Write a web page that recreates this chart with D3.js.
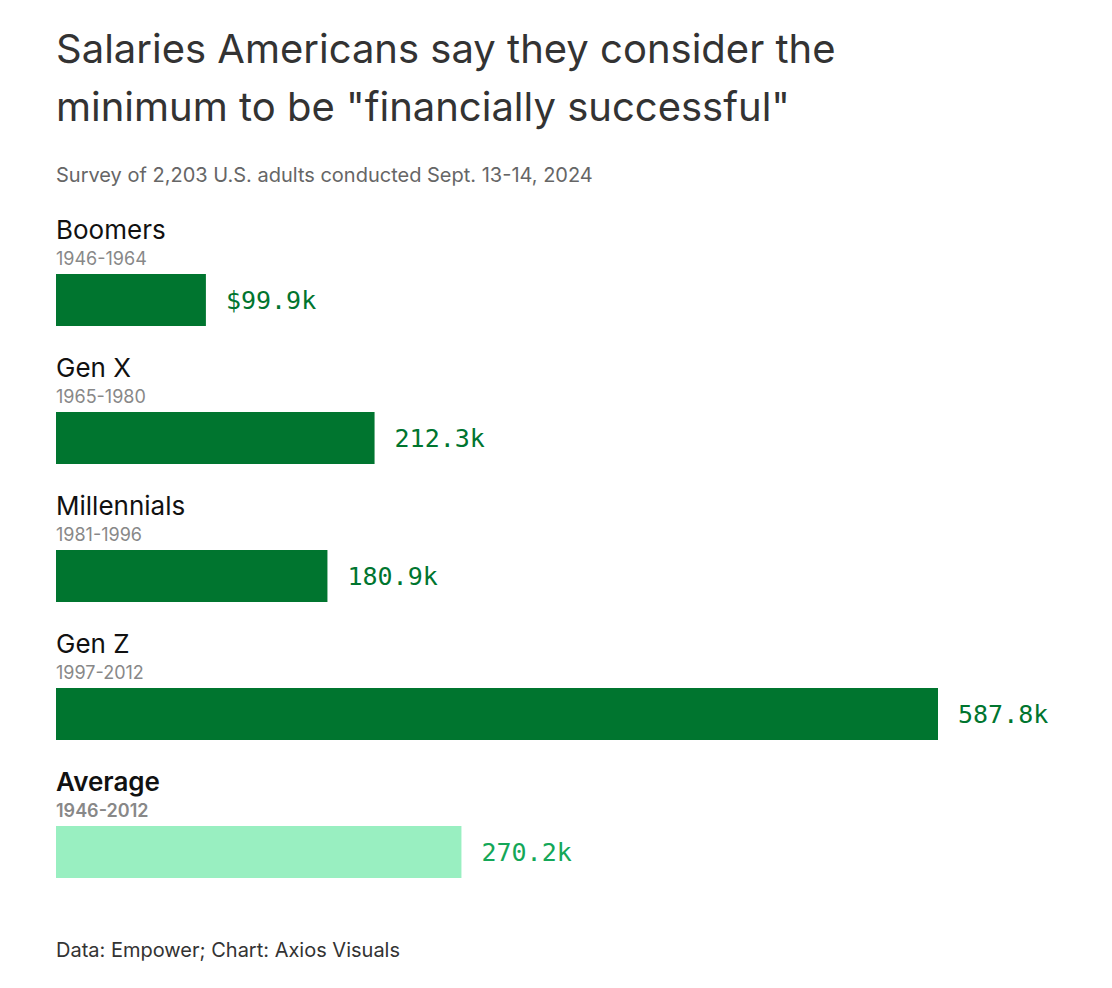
<!DOCTYPE html><html><head><meta charset="utf-8">
<script src="https://cdn.jsdelivr.net/npm/d3@7"></script>
<style>body{margin:0;background:#fff}</style></head><body>
<script>
const categories=["Boomers","Gen X","Millennials","Gen Z","Average"];
const years=["1946-1964","1965-1980","1981-1996","1997-2012","1946-2012"];
const values=[99.9,212.3,180.9,587.8,270.2];
const labels=["$99.9k","212.3k","180.9k","587.8k","270.2k"];
const W=1112,H=988;
const svg=d3.select("body").append("svg").attr("width",W).attr("height",H);
const font="Inter, 'Noto Sans', sans-serif";
svg.append("text").attr("x",56).attr("y",63).attr("font-family",font).attr("font-size",40).attr("fill","#333").text("Salaries Americans say they consider the");
svg.append("text").attr("x",56).attr("y",121).attr("font-family",font).attr("font-size",40).attr("fill","#333").text("minimum to be \"financially successful\"");
svg.append("text").attr("x",56).attr("y",182).attr("font-family",font).attr("font-size",20).attr("fill","#666").text("Survey of 2,203 U.S. adults conducted Sept. 13-14, 2024");
svg.append("text").attr("x",56).attr("y",957).attr("font-family",font).attr("font-size",20).attr("fill","#333").text("Data: Empower; Chart: Axios Visuals");
const x=d3.scaleLinear().domain([0,587.8]).range([56,938]);
const y=d3.scaleBand().domain(categories).range([274,964]).paddingInner(0);
const g=svg.selectAll("g.row").data(categories).join("g");
g.append("rect").attr("x",x(0)).attr("y",d=>y(d)).attr("height",52)
 .attr("width",(d,i)=>x(values[i])-x(0)).attr("fill",(d,i)=>i==4?"#99efc1":"#00752f");
g.append("text").attr("x",56).attr("y",d=>y(d)-35).attr("font-family",font).attr("font-size",26)
 .attr("font-weight",(d,i)=>i==4?600:400).attr("fill","#111").text(d=>d);
g.append("text").attr("x",56).attr("y",d=>y(d)-9).attr("font-family",font).attr("font-size",18)
 .attr("font-weight",(d,i)=>i==4?600:400).attr("fill","#888").text((d,i)=>years[i]);
g.append("text").attr("x",(d,i)=>x(values[i])+20).attr("y",d=>y(d)+35).attr("font-family","'DejaVu Sans Mono', monospace")
 .attr("font-size",25).attr("fill",(d,i)=>i==4?"#14a758":"#00752f").text((d,i)=>labels[i]);
</script></body></html>
